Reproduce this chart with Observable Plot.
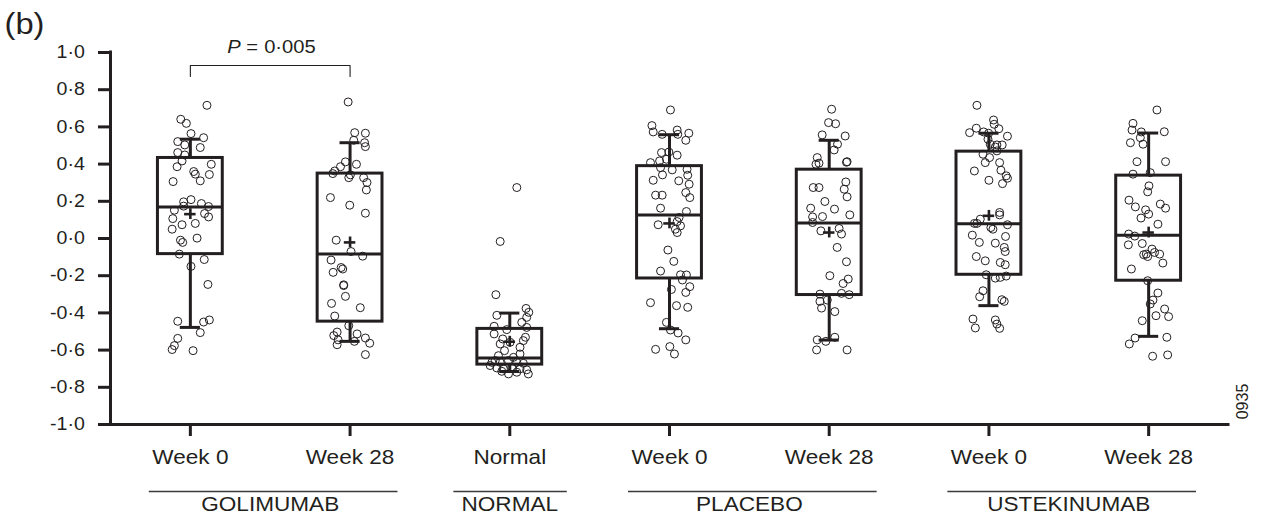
<!DOCTYPE html>
<html><head><meta charset="utf-8">
<script src="https://cdn.jsdelivr.net/npm/d3@7"></script>
<script src="https://cdn.jsdelivr.net/npm/@observablehq/plot@0.6"></script>
<style>
html,body{margin:0;padding:0;background:#fff;}
#chart svg{display:block;}
</style></head><body><div id="chart"></div><script>
// ---------------- data ----------------
const categories = ["Week 0", "Week 28", "Normal", "Week 0", "Week 28", "Week 0", "Week 28"];
const groupNames = ["GOLIMUMAB", "NORMAL", "PLACEBO", "USTEKINUMAB"];
const groupFirst = [0, 2, 3, 5];
const groupLast = [1, 2, 4, 6];
const yTicks = [-1, -0.8, -0.6, -0.4, -0.2, 0, 0.2, 0.4, 0.6, 0.8, 1];

const boxQ3 = [0.433, 0.349, -0.486, 0.389, 0.370, 0.467, 0.338];
const boxMedian = [0.170, -0.084, -0.642, 0.127, 0.083, 0.079, 0.018];
const boxQ1 = [-0.084, -0.447, -0.678, -0.215, -0.304, -0.195, -0.227];
const boxMean = [0.131, -0.021, -0.555, 0.081, 0.032, 0.122, 0.032];
const whiskerHigh = [0.534, 0.515, -0.401, 0.558, 0.528, 0.566, 0.567];
const whiskerLow = [-0.478, -0.553, -0.715, -0.485, -0.546, -0.361, -0.526];

const pValue = "0·005";
const pValueFrom = 0, pValueTo = 1;

// points: [value, horizontal jitter in category units]
const golimumabWeek0 = [[0.716,0.104],[0.641,-0.060],[0.619,-0.025],[0.564,0.004],[0.542,0.083],[0.521,-0.079],[0.503,-0.035],[0.489,0.062],[0.462,-0.079],[0.449,-0.035],[0.417,-0.052],[0.386,-0.083],[0.399,0.131],[0.360,0.021],[0.346,0.031],[0.344,0.119],[0.310,0.062],[0.306,-0.108],[0.209,0.004],[0.197,-0.042],[0.188,0.069],[0.174,-0.042],[0.172,0.114],[0.152,-0.100],[0.134,0.089],[0.116,0.114],[0.107,-0.110],[0.081,0.031],[0.074,-0.052],[0.050,-0.114],[0.002,0.042],[-0.009,-0.062],[-0.021,-0.048],[-0.084,-0.069],[-0.113,0.087],[-0.150,0.004],[-0.247,0.110],[-0.445,-0.079],[-0.449,0.083],[-0.438,0.119],[-0.506,0.062],[-0.537,-0.079],[-0.576,-0.100],[-0.597,-0.114],[-0.603,0.017]];
const golimumabWeek28 = [[0.734,-0.012],[0.569,0.029],[0.566,0.096],[0.528,0.023],[0.515,0.091],[0.494,0.096],[0.412,-0.029],[0.399,0.040],[0.386,-0.060],[0.363,-0.096],[0.349,-0.108],[0.342,0.002],[0.327,-0.008],[0.327,0.085],[0.301,0.106],[0.261,0.102],[0.220,-0.123],[0.179,-0.002],[0.136,0.096],[-0.009,-0.087],[-0.070,0.006],[-0.095,0.079],[-0.116,-0.119],[-0.156,-0.056],[-0.164,-0.046],[-0.182,-0.106],[-0.249,-0.040],[-0.253,-0.040],[-0.311,-0.029],[-0.349,-0.116],[-0.372,0.064],[-0.417,-0.096],[-0.469,-0.008],[-0.503,-0.081],[-0.522,-0.102],[-0.513,0.044],[-0.545,-0.075],[-0.553,0.027],[-0.535,0.096],[-0.563,0.123],[-0.571,-0.081],[-0.624,0.096]];
const normalGroup = [[0.274,0.044],[-0.016,-0.060],[-0.302,-0.087],[-0.376,0.102],[-0.397,0.119],[-0.413,-0.081],[-0.424,0.106],[-0.451,0.075],[-0.472,-0.098],[-0.478,0.106],[-0.490,-0.019],[-0.513,-0.098],[-0.531,0.098],[-0.540,-0.044],[-0.549,0.085],[-0.558,0.002],[-0.567,-0.060],[-0.585,0.064],[-0.603,-0.033],[-0.621,0.064],[-0.656,-0.091],[-0.666,-0.060],[-0.656,-0.008],[-0.666,0.044],[-0.671,0.085],[-0.666,-0.112],[-0.696,-0.081],[-0.701,-0.040],[-0.692,0.012],[-0.701,0.064],[-0.706,0.106],[-0.714,-0.050],[-0.728,-0.008],[-0.719,0.044],[-0.728,0.116],[-0.683,-0.123],[-0.639,0.023],[-0.630,-0.071]];
const placeboWeek0 = [[0.691,0.006],[0.607,-0.110],[0.573,-0.102],[0.560,-0.046],[0.583,0.048],[0.560,0.052],[0.566,0.121],[0.528,0.102],[0.462,-0.050],[0.465,-0.004],[0.448,0.048],[0.417,-0.062],[0.426,-0.019],[0.408,-0.119],[0.381,-0.056],[0.369,0.017],[0.372,0.110],[0.342,-0.044],[0.340,0.114],[0.313,-0.102],[0.310,0.058],[0.292,0.123],[0.247,0.102],[0.233,-0.087],[0.233,-0.046],[0.220,0.127],[0.163,-0.056],[0.145,0.106],[0.113,0.060],[0.091,0.048],[0.074,-0.071],[0.068,0.069],[0.050,0.037],[0.032,0.048],[-0.062,-0.010],[-0.123,0.027],[-0.175,-0.056],[-0.195,0.069],[-0.196,0.106],[-0.223,0.081],[-0.259,0.127],[-0.274,0.012],[-0.290,0.102],[-0.345,-0.119],[-0.361,0.044],[-0.370,0.114],[-0.451,-0.019],[-0.492,0.006],[-0.508,0.054],[-0.545,0.102],[-0.596,-0.087],[-0.581,0.002],[-0.621,0.031]];
const placeboWeek28 = [[0.695,0.015],[0.623,-0.004],[0.617,0.040],[0.557,-0.044],[0.551,0.100],[0.507,0.052],[0.476,0.031],[0.435,-0.075],[0.405,-0.064],[0.399,-0.083],[0.413,0.112],[0.410,0.108],[0.274,-0.100],[0.274,-0.064],[0.304,0.104],[0.265,0.094],[0.224,0.112],[0.199,-0.027],[0.163,-0.116],[0.158,0.033],[0.116,-0.104],[0.118,-0.042],[0.127,0.129],[0.086,-0.104],[0.041,-0.052],[0.054,0.062],[0.024,0.077],[-0.048,0.050],[-0.125,0.108],[-0.200,0.004],[-0.218,0.119],[-0.242,0.087],[-0.299,-0.058],[-0.295,0.077],[-0.302,0.125],[-0.338,-0.058],[-0.331,-0.012],[-0.374,-0.048],[-0.393,0.035],[-0.545,-0.075],[-0.553,-0.021],[-0.531,0.035],[-0.599,-0.079],[-0.599,0.112]];
const ustekinumabWeek0 = [[0.716,-0.075],[0.637,0.029],[0.614,0.033],[0.593,-0.079],[0.590,0.062],[0.573,-0.033],[0.569,-0.121],[0.566,-0.002],[0.550,0.116],[0.534,-0.006],[0.507,0.008],[0.503,0.050],[0.503,0.083],[0.492,0.040],[0.453,-0.037],[0.471,0.050],[0.435,0.004],[0.408,-0.023],[0.408,0.067],[0.363,-0.091],[0.367,0.075],[0.337,0.108],[0.324,0.116],[0.313,0.000],[0.295,0.085],[0.140,0.067],[0.104,-0.054],[0.081,-0.075],[0.081,-0.091],[0.059,0.012],[0.050,0.025],[0.074,0.116],[0.127,0.067],[0.018,-0.104],[0.011,0.104],[-0.021,-0.060],[-0.025,0.040],[-0.048,0.096],[-0.070,0.102],[-0.097,-0.079],[-0.120,-0.023],[-0.129,0.071],[-0.141,0.102],[-0.195,-0.017],[-0.213,0.040],[-0.209,0.071],[-0.202,0.108],[-0.281,-0.037],[-0.313,-0.058],[-0.329,0.081],[-0.338,0.096],[-0.433,-0.100],[-0.481,-0.085],[-0.438,0.040],[-0.460,0.050],[-0.483,0.067]];
const ustekinumabWeek28 = [[0.691,0.052],[0.619,-0.098],[0.583,-0.104],[0.573,-0.046],[0.574,0.098],[0.542,-0.052],[0.515,-0.114],[0.507,-0.035],[0.413,-0.073],[0.413,0.106],[0.346,-0.098],[0.354,0.010],[0.283,0.002],[0.251,-0.006],[0.206,-0.123],[0.185,0.073],[0.163,0.106],[0.170,-0.083],[0.154,-0.019],[0.131,0.000],[0.110,-0.048],[0.077,0.058],[0.024,-0.125],[0.013,-0.087],[-0.034,-0.127],[-0.027,-0.040],[-0.057,0.021],[-0.075,0.037],[-0.087,-0.031],[-0.097,-0.006],[-0.084,-0.015],[-0.084,0.069],[-0.132,0.089],[-0.164,-0.108],[-0.227,-0.006],[-0.293,0.058],[-0.331,0.027],[-0.352,0.010],[-0.379,0.100],[-0.420,0.125],[-0.415,0.046],[-0.442,-0.040],[-0.535,-0.085],[-0.567,-0.121],[-0.531,0.114],[-0.633,0.025],[-0.626,0.119]];
const pointGroups = [golimumabWeek0, golimumabWeek28, normalGroup, placeboWeek0, placeboWeek28, ustekinumabWeek0, ustekinumabWeek28];

// ---------------- build ----------------
const ink = "#231f20";
const font = "'Liberation Sans', Arial, Helvetica, sans-serif";
const BOX_HALF = 0.203, CAP_HALF = 0.063, CROSS_HX = 0.036, CROSS_HY = 0.029;

const stats = categories.map((c, i) => ({
  i, q1: boxQ1[i], q3: boxQ3[i], med: boxMedian[i], mean: boxMean[i], lo: whiskerLow[i], hi: whiskerHigh[i]
}));
const points = pointGroups.flatMap((g, i) => g.map(([v, j]) => ({x: i + j, v})));

// underline extents (category units) for group labels
const lineLeftPad = [0.257, 0.35, 0.257, 0.257];
const lineRightPad = [0.30, 0.36, 0.30, 0.30];
const groups = groupNames.map((name, k) => ({
  name,
  c: (groupFirst[k] + groupLast[k]) / 2,
  x1: groupFirst[k] - lineLeftPad[k],
  x2: groupLast[k] + lineRightPad[k]
}));

const fmt = d => d3.format(".1f")(d).replace(".", "·").replace("−", "-");
const bracketTop = 0.930, bracketBottom = 0.871;
const pMid = (pValueFrom + pValueTo) / 2;

const chart = Plot.plot({
  width: 1261,
  height: 517,
  marginLeft: 110,
  marginRight: 33,
  marginTop: 52,
  marginBottom: 93,
  style: {fontFamily: font, color: ink, background: "#fff", overflow: "visible"},
  x: {domain: [-0.5, 6.5]},
  y: {domain: [-1, 1]},
  marks: [
    Plot.dot(points, {x: "x", y: "v", r: 4, stroke: ink, strokeWidth: 1, fill: "none"}),
    Plot.rect(stats, {x1: d => d.i - BOX_HALF, x2: d => d.i + BOX_HALF, y1: "q1", y2: "q3", inset: 0, fill: "none", stroke: ink, strokeWidth: 3}),
    Plot.ruleY(stats, {y: "med", x1: d => d.i - BOX_HALF, x2: d => d.i + BOX_HALF, stroke: ink, strokeWidth: 3}),
    Plot.ruleX(stats, {x: "i", y1: "q3", y2: "hi", stroke: ink, strokeWidth: 3}),
    Plot.ruleX(stats, {x: "i", y1: "lo", y2: "q1", stroke: ink, strokeWidth: 3}),
    Plot.ruleY(stats, {y: "hi", x1: d => d.i - CAP_HALF, x2: d => d.i + CAP_HALF, stroke: ink, strokeWidth: 3}),
    Plot.ruleY(stats, {y: "lo", x1: d => d.i - CAP_HALF, x2: d => d.i + CAP_HALF, stroke: ink, strokeWidth: 3}),
    Plot.ruleY(stats, {y: "mean", x1: d => d.i - CROSS_HX, x2: d => d.i + CROSS_HX, stroke: ink, strokeWidth: 2.6}),
    Plot.ruleX(stats, {x: "i", y1: d => d.mean - CROSS_HY, y2: d => d.mean + CROSS_HY, stroke: ink, strokeWidth: 2.6}),
    Plot.axisY({ticks: yTicks, tickFormat: fmt, tickSize: 12, tickPadding: 13.7, fontSize: 17.8, strokeWidth: 3, stroke: ink, fill: ink, label: null}),
    Plot.axisX({ticks: categories.map((c, i) => i), tickFormat: i => categories[i], tickSize: 12, tickPadding: 13, fontSize: 20, strokeWidth: 3, stroke: ink, fill: ink, label: null}),
    Plot.ruleX([-0.5], {y1: -1, y2: 1, stroke: ink, strokeWidth: 3, strokeLinecap: "square"}),
    Plot.ruleY([-1], {x1: -0.5, x2: 6.5, stroke: ink, strokeWidth: 3, strokeLinecap: "square"}),
    Plot.line([[pValueFrom, bracketBottom], [pValueFrom, bracketTop], [pValueTo, bracketTop], [pValueTo, bracketBottom]], {stroke: ink, strokeWidth: 1.1}),
    Plot.text(["P"], {x: pMid, y: bracketTop, dx: -43, dy: -12.5, textAnchor: "start", lineAnchor: "bottom", fontSize: 18.5, fontStyle: "italic", fill: ink}),
    Plot.text(["="], {x: pMid, y: bracketTop, dx: -18, dy: -12.5, textAnchor: "middle", lineAnchor: "bottom", fontSize: 18.5, fill: ink}),
    Plot.text([pValue], {x: pMid, y: bracketTop, dx: 45.5, dy: -12.5, textAnchor: "end", lineAnchor: "bottom", fontSize: 18.5, fill: ink}),
    Plot.ruleY(groups, {y: () => -1, x1: "x1", x2: "x2", dy: 67, stroke: "#3a3a3a", strokeWidth: 1.4}),
    Plot.text(groups, {x: "c", y: () => -1, text: "name", dy: 86, lineAnchor: "bottom", fontSize: 20, fill: ink}),
    Plot.text(["(b)"], {frameAnchor: "top-left", dx: -106, dy: -19, textAnchor: "start", lineAnchor: "bottom", fontSize: 30, fill: ink}),
    Plot.text(["0935"], {frameAnchor: "bottom-right", dx: 14.5, dy: -23, rotate: -90, textAnchor: "middle", lineAnchor: "middle", fontSize: 16, fill: ink})
  ]
});

// the reference typeface is wider than Arial: stretch glyphs horizontally about each anchor
const yLabels = new Set(yTicks.map(fmt));
d3.select(chart).selectAll("text").each(function () {
  const t = this.textContent;
  if (t === "0935") return;
  let s = 1.13;
  if (yLabels.has(t)) s = 1.1;
  else if (t === "(b)" || t === pValue || t === "=" || t === "P") s = 1.09;
  let tr = this.getAttribute("transform") || "";
  const x = this.getAttribute("x");
  if (x != null && !/em$/.test(x)) {
    tr = `${tr} translate(${+x || 0},0)`;
    this.removeAttribute("x");
  }
  this.setAttribute("transform", `${tr} scale(${s},1)`);
});
document.getElementById("chart").appendChild(chart);
</script></body></html>
